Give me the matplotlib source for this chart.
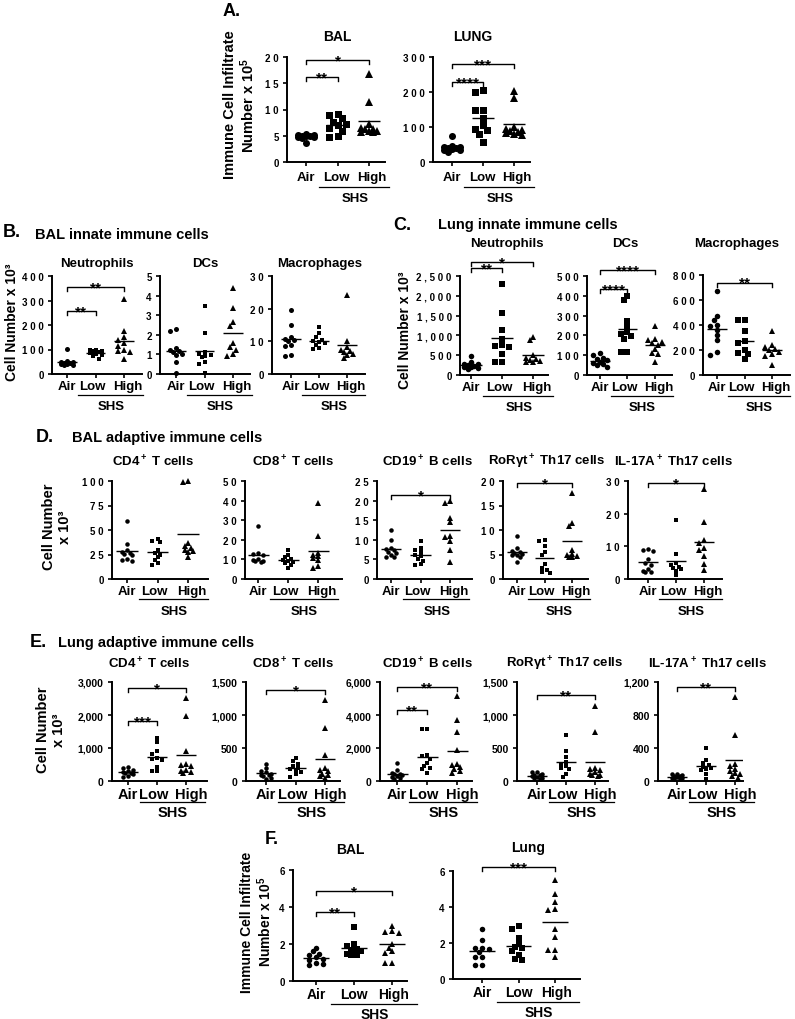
import numpy as np
import matplotlib.pyplot as plt
from matplotlib import transforms

plt.rcParams['font.family'] = ['Liberation Sans', 'DejaVu Sans']
plt.rcParams['font.weight'] = 'bold'
plt.rcParams['mathtext.fontset'] = 'custom'
plt.rcParams['mathtext.rm'] = 'Liberation Sans:bold'
plt.rcParams['mathtext.bf'] = 'Liberation Sans:bold'
plt.rcParams['mathtext.it'] = 'Liberation Sans:bold'
plt.rcParams['mathtext.default'] = 'rm'

W, H = 795, 1020
groups = ['Air', 'Low', 'High']

# ---- A. total immune cell infiltrate (x 10^5)
a_bal = [[5.3, 5.2, 5.0, 4.9, 4.8, 4.7, 4.9, 5.1, 4.6, 3.6],
         [9.2, 9.0, 8.3, 7.3, 7.0, 6.4, 6.0, 5.0, 4.8, 7.6],
         [16.8, 11.4, 7.3, 6.5, 6.2, 6.0, 5.8, 5.7, 6.3, 6.0]]
a_lung = [[73, 45, 42, 40, 38, 35, 33, 30, 44, 40],
          [207, 200, 150, 150, 127, 105, 95, 92, 80, 57],
          [204, 183, 100, 95, 92, 88, 85, 82, 80, 78]]
a_bal_ticks = [0, 5, 10, 15, 20]
a_lung_ticks = [0, 100, 200, 300]

# ---- B. BAL innate immune cells (x 10^3)
b_neut = [[103, 52, 50, 48, 46, 44, 42, 40, 38, 36],
          [100, 98, 95, 92, 88, 85, 80, 78, 72, 62],
          [308, 175, 150, 140, 125, 115, 100, 95, 90, 62]]
b_dc = [[2.2, 2.3, 1.35, 1.2, 1.15, 1.1, 1.0, 0.95, 0.6, 0.05],
        [3.45, 2.1, 1.1, 1.0, 0.95, 0.9, 0.85, 0.6, 0.5, 0.05],
        [4.4, 3.36, 2.66, 2.45, 1.6, 1.4, 1.25, 1.0, 0.9]]
b_mac = [[19.6, 15.1, 11.4, 10.6, 10.3, 10.0, 9.0, 8.5, 5.8, 5.6],
         [14.4, 12.5, 11.2, 10.5, 10.0, 9.8, 9.4, 9.0, 8.0, 7.6],
         [24.2, 10.1, 8.3, 7.4, 7.0, 6.6, 6.2, 5.8, 4.8]]
b_neut_ticks = [0, 100, 200, 300, 400]
b_dc_ticks = [0, 1, 2, 3, 4, 5]
b_mac_ticks = [0, 10, 20, 30]

# ---- C. Lung innate immune cells (x 10^3)
c_neut = [[480, 320, 290, 270, 250, 230, 210, 190, 170, 150],
          [2290, 1577, 1141, 900, 760, 720, 700, 530, 340, 330],
          [970, 880, 500, 420, 400, 380, 360, 340, 320]]
c_dc = [[110, 100, 88, 80, 74, 68, 62, 56, 48, 40],
        [398, 380, 275, 250, 215, 205, 195, 180, 117, 115],
        [247, 182, 175, 168, 160, 150, 130, 112, 105, 68]]
c_mac = [[673, 470, 440, 400, 395, 360, 320, 280, 185, 160],
         [444, 438, 350, 270, 255, 200, 180, 170, 127],
         [355, 240, 225, 210, 200, 185, 170, 150, 82]]
c_neut_ticks = [0, 500, 1000, 1500, 2000, 2500]
c_dc_ticks = [0, 100, 200, 300, 400, 500]
c_mac_ticks = [0, 200, 400, 600, 800]

# ---- D. BAL adaptive immune cells (x 10^3)
d_cd4 = [[59, 36, 30, 28, 27, 26, 24, 20, 18, 19],
         [41, 39, 38, 30, 27, 25, 22, 19, 16, 14],
         [99.5, 98.5, 37, 34, 32, 30, 29, 28, 22]]
d_cd8 = [[27, 13.5, 13, 12.5, 10, 9.5, 9.2, 9, 8.7],
         [15, 12.5, 11, 10.2, 9.8, 9.3, 8.7, 8, 7, 5.5],
         [39, 22, 13.5, 12.5, 11.5, 10.5, 9.5, 6.5, 5.5]]
d_cd19 = [[12.6, 9.9, 8, 7.6, 7.3, 7, 6.7, 6.2, 5.7, 5.5],
          [9.8, 7.8, 7.5, 6.8, 6.2, 5.8, 5.0, 4.5, 3.8, 3.5],
          [19.8, 19.5, 15.5, 14.5, 11, 10.6, 9.8, 7.3, 4.3]]
d_ror = [[8.7, 6.3, 5.6, 5.4, 5.2, 5.0, 4.8, 4.5, 3.5, 5.8],
         [7.9, 7.7, 6.8, 5.5, 4.8, 3.0, 2.3, 1.8, 1.4, 1.2],
         [17.6, 11.4, 10.8, 6.0, 5.2, 4.9, 4.7, 4.5, 4.4]]
d_il17 = [[9.2, 9.0, 8.5, 6.0, 5.0, 4.2, 3.2, 2.6, 2.2, 2.0],
          [18.2, 7.8, 4.8, 4.3, 3.8, 3.4, 3.0, 2.4, 1.2],
          [27.6, 17.5, 11.8, 11.0, 9.5, 9.0, 7.0, 4.5, 2.8]]
d_cd4_ticks = [0, 25, 50, 75, 100]
d_cd8_ticks = [0, 10, 20, 30, 40, 50]
d_cd19_ticks = [0, 5, 10, 15, 20, 25]
d_ror_ticks = [0, 5, 10, 15, 20]
d_il17_ticks = [0, 10, 20, 30]

# ---- E. Lung adaptive immune cells (x 10^3)
e_cd4 = [[420, 390, 340, 300, 280, 250, 230, 200, 150, 110],
         [1300, 1180, 910, 830, 700, 680, 650, 430, 300, 290],
         [2515, 1960, 900, 520, 480, 450, 330, 300, 280, 250]]
e_cd8 = [[255, 190, 150, 130, 110, 95, 85, 70, 50, 35],
         [345, 300, 260, 230, 200, 180, 160, 130, 100, 60],
         [1230, 800, 390, 200, 170, 150, 110, 90, 70, 50]]
e_cd19 = [[1100, 650, 500, 450, 400, 350, 300, 250, 200, 150],
          [3130, 3130, 1560, 1500, 1350, 1100, 900, 800, 750, 480],
          [5150, 3680, 2970, 1860, 1050, 1000, 850, 700, 600, 500]]
e_ror = [[140, 130, 110, 95, 85, 75, 65, 50, 40, 30],
         [700, 455, 365, 290, 260, 230, 200, 180, 110, 60],
         [1135, 750, 200, 180, 160, 130, 110, 95, 85, 75]]
e_il17 = [[90, 80, 70, 60, 55, 50, 40, 35, 30, 20],
          [403, 260, 220, 200, 170, 160, 150, 130, 90, 25],
          [1020, 556, 210, 180, 150, 120, 100, 80, 60, 40]]
e_cd4_ticks = [0, 1000, 2000, 3000]
e_cd8_ticks = [0, 500, 1000, 1500]
e_cd19_ticks = [0, 2000, 4000, 6000]
e_ror_ticks = [0, 500, 1000, 1500]
e_il17_ticks = [0, 400, 800, 1200]

# ---- F. total immune cell infiltrate (x 10^5)
f_bal = [[1.8, 1.6, 1.45, 1.4, 1.3, 1.2, 1.15, 1.0, 0.9, 0.85],
         [2.9, 2.0, 1.9, 1.75, 1.7, 1.6, 1.5, 1.45, 1.42, 1.4],
         [3.0, 2.7, 2.65, 2.6, 2.0, 1.8, 1.6, 1.5, 1.0, 0.95]]
f_lung = [[2.77, 2.16, 1.75, 1.7, 1.65, 1.5, 1.25, 1.2, 0.8, 0.78],
          [2.95, 2.8, 2.3, 2.0, 1.8, 1.7, 1.55, 1.35, 1.1, 1.05],
          [5.5, 4.74, 4.28, 3.87, 3.85, 2.77, 2.36, 1.62, 1.6, 1.25]]
f_ticks = [0, 2, 4, 6]

fig = plt.figure(figsize=(W / 100, H / 100), dpi=100)
PT = 0.72  # points per pixel at 100 dpi


def T(x, y, s, size, ha='left', va='center', rot=0, ls=1.2):
    fig.text(x / W, 1 - y / H, s, fontsize=size, fontweight='bold', ha=ha, va=va,
             rotation=rot, linespacing=ls, multialignment='center')


def swarm(vals, ppu, ms):
    # compact deterministic beeswarm (overlap allowed), offsets in pixels
    d = ms * 0.85
    step = ms * 0.6
    order = np.argsort(vals)[::-1]
    placed = []
    offs = np.zeros(len(vals))
    for i in order:
        y = vals[i] * ppu
        best, best_gap = 0.0, -1
        for k in [0, -1, 1, -2, 2]:
            x = k * step
            gap = min([np.hypot(x - px, y - py) for px, py in placed] or [99])
            if gap >= d:
                best = x
                break
            if gap > best_gap:
                best, best_gap = x, gap
        placed.append((best, y))
        offs[i] = best
    return offs


def dot_panel(box, data, ticks, brackets, ms=5, spaced=True, fs_tick=7, fs_cat=9.5,
              lab_off=(12, 21, 32), lab_shift=(0, -3, 4)):
    left, air, sp, right, top, bottom = box
    ax = fig.add_axes([left / W, 1 - bottom / H, (right - left) / W, (bottom - top) / H])
    ax.set_xlim(1 - (air - left) / sp, 1 + (right - air) / sp)
    ymax = ticks[-1]
    ax.set_ylim(0, ymax)
    ppu = (bottom - top) / ymax
    for g, (vals, mk) in enumerate(zip(data, ['o', 's', '^'])):
        vals = np.asarray(vals, float)
        size = ms * (1.2 if mk == '^' else 1.0)
        xo = swarm(vals, ppu, ms) / sp
        ax.plot(g + 1 + xo, vals, mk, color='black', ms=size * PT, mew=0,
                clip_on=False, zorder=3)
        m = vals.mean()
        ax.plot([g + 1 - 0.35, g + 1 + 0.35], [m, m], color='black', lw=1.0,
                solid_capstyle='butt')
    for i, j, y, stars in brackets:
        drop = 4 / ppu
        ax.plot([i, i, j, j], [y - drop, y, y, y - drop], color='black', lw=1.0,
                clip_on=False)
        ax.annotate(stars, (0.5 * (i + j), y), xytext=(0, -3.2), textcoords='offset points',
                    ha='center', va='baseline', fontsize=11, fontweight='bold',
                    annotation_clip=False)
    for s in ['top', 'right']:
        ax.spines[s].set_visible(False)
    for s in ['left', 'bottom']:
        ax.spines[s].set_linewidth(1.4)
    ax.set_xticks([1, 2, 3])
    ax.set_xticklabels([])
    labs = []
    for t in ticks:
        s = f'{t:,}'
        labs.append(' '.join(s) if spaced else s)
    ax.set_yticks(ticks)
    ax.set_yticklabels(labs, fontsize=fs_tick, fontweight='bold')
    ax.tick_params(axis='both', direction='out', length=3, width=1.2)
    ax.tick_params(axis='y', pad=3)
    h = bottom - top
    tr = transforms.blended_transform_factory(ax.transData, ax.transAxes)
    for g, (name, dx) in enumerate(zip(groups, lab_shift)):
        ax.annotate(name, (g + 1, 0), xycoords=tr, xytext=(dx * PT, -lab_off[0] * PT),
                    textcoords='offset points', ha='center', va='center',
                    fontsize=fs_cat, fontweight='bold', annotation_clip=False)
    ax.plot([2 - 0.6, 3 + 0.65], [-lab_off[1] / h] * 2, transform=tr, color='black',
            lw=0.9, clip_on=False)
    ax.text(2.55, -lab_off[2] / h, 'SHS', transform=tr, ha='center', va='center',
            fontsize=fs_cat, fontweight='bold')
    return ax


# ---- A
T(223, 12, 'A.', 13)
T(337, 37, 'BAL', 10, ha='center')
T(473, 37, 'LUNG', 10, ha='center')
T(240, 105, 'Immune Cell Infiltrate\nNumber x 10$^5$', 10.5, ha='center', rot=90, ls=1.05)
akw = dict(ms=7, lab_off=(15, 25, 36), lab_shift=(0, -1, 3))
dot_panel((287, 306, 31.5, 385, 58, 163), a_bal, a_bal_ticks,
          [(1, 2, 16.2, '**'), (1, 3, 19.5, '*')], **akw)
dot_panel((433, 452, 31, 530, 58, 163), a_lung, a_lung_ticks,
          [(1, 2, 229, '****'), (1, 3, 280, '***')], **akw)

# ---- B
T(3, 233, 'B.', 13)
T(35, 235, 'BAL innate immune cells', 10.5)
T(97, 264, 'Neutrophils', 9.5, ha='center')
T(205, 264, 'DCs', 9.5, ha='center')
T(320, 264, 'Macrophages', 9.5, ha='center')
T(12, 322, 'Cell Number x 10\u00b3', 10, ha='center', rot=90)
dot_panel((52, 67, 28.5, 142, 277, 375), b_neut, b_neut_ticks,
          [(1, 2, 258, '**'), (1, 3, 357, '**')])
dot_panel((160, 176, 28.5, 250, 277, 375), b_dc, b_dc_ticks, [])
dot_panel((272, 291, 28, 365, 277, 375), b_mac, b_mac_ticks, [])

# ---- C
T(393, 225, 'C.', 13)
T(438, 225, 'Lung innate immune cells', 10.5)
T(507, 244, 'Neutrophils', 9.5, ha='center')
T(625, 244, 'DCs', 9.5, ha='center')
T(737, 244, 'Macrophages', 9.5, ha='center')
T(405, 330, 'Cell Number x 10\u00b3', 10, ha='center', rot=90)
dot_panel((460, 471, 31, 548, 277, 376), c_neut, c_neut_ticks,
          [(1, 2, 2710, '**'), (1, 3, 2861, '*')], ms=5.5)
dot_panel((587, 600, 27.5, 672, 277, 376), c_dc, c_dc_ticks,
          [(1, 2, 436, '****'), (1, 3, 532, '****')], ms=5.5)
dot_panel((703, 717, 27.5, 790, 276, 376), c_mac, c_mac_ticks,
          [(1, 3, 740, '**')], ms=5.5)

# ---- D
T(36, 438, 'D.', 13)
T(72, 438, 'BAL adaptive immune cells', 10.5)
T(153, 462, 'CD4$^+$ T cells', 9.5, ha='center')
T(293, 462, 'CD8$^+$ T cells', 9.5, ha='center')
T(427, 462, 'CD19$^+$ B cells', 9.5, ha='center')
T(547, 462, 'RoR\u03b3t$^+$ Th17 cells', 9.5, ha='center')
T(673, 462, 'IL-17A$^+$ Th17 cells', 9.5, ha='center')
T(57, 527, 'Cell Number\nx 10\u00b3', 10.5, ha='center', rot=90, ls=1.1)
dkw = dict(ms=4.5, lab_off=(12, 20, 32))
dot_panel((112, 127, 30.5, 208, 482, 580), d_cd4, d_cd4_ticks, [], **dkw)
dot_panel((245, 258, 30, 342, 482, 580), d_cd8, d_cd8_ticks, [], **dkw)
dot_panel((377, 391, 29.5, 472, 482, 580), d_cd19, d_cd19_ticks,
          [(1, 3, 21.5, '*')], **dkw)
dot_panel((503, 517, 27.5, 588, 482, 580), d_ror, d_ror_ticks,
          [(1, 3, 19.5, '*')], **dkw)
dot_panel((628, 648, 28, 722, 482, 580), d_il17, d_il17_ticks,
          [(1, 3, 29.3, '*')], **dkw)

# ---- E
T(30, 643, 'E.', 13)
T(58, 643, 'Lung adaptive immune cells', 10.5)
T(149, 664, 'CD4$^+$ T cells', 9.5, ha='center')
T(293, 664, 'CD8$^+$ T cells', 9.5, ha='center')
T(427, 664, 'CD19$^+$ B cells', 9.5, ha='center')
T(565, 664, 'RoR\u03b3t$^+$ Th17 cells', 9.5, ha='center')
T(707, 664, 'IL-17A$^+$ Th17 cells', 9.5, ha='center')
T(51, 730, 'Cell Number\nx 10\u00b3', 10.5, ha='center', rot=90, ls=1.1)
ekw = dict(ms=4.5, spaced=False, fs_tick=7.5, fs_cat=10.5, lab_off=(13, 21, 31),
           lab_shift=(0, -3, 5))
dot_panel((112, 128, 29, 207, 683, 782), e_cd4, e_cd4_ticks,
          [(1, 2, 1818, '***'), (1, 3, 2828, '*')], **ekw)
dot_panel((246, 266, 29.5, 340, 683, 782), e_cd8, e_cd8_ticks,
          [(1, 3, 1374, '*')], **ekw)
dot_panel((380, 397, 30, 472, 683, 782), e_cd19, e_cd19_ticks,
          [(1, 2, 4282, '**'), (1, 3, 5696, '**')], **ekw)
dot_panel((517, 537, 29, 608, 683, 782), e_ror, e_ror_ticks,
          [(1, 3, 1298, '**')], **ekw)
dot_panel((658, 677, 29, 743, 683, 782), e_il17, e_il17_ticks,
          [(1, 3, 1140, '**')], **ekw)

# ---- F
T(265, 840, 'F.', 13)
T(350, 850, 'BAL', 10, ha='center')
T(528, 848, 'Lung', 10, ha='center')
T(257, 922, 'Immune Cell Infiltrate\nNumber x 10$^5$', 10, ha='center', rot=90, ls=1.05)
fkw = dict(ms=5.5, spaced=False, fs_tick=7, fs_cat=10, lab_off=(13, 23, 33),
           lab_shift=(0, 0, 2))
dot_panel((293, 316, 38, 407, 871, 982), f_bal, f_ticks,
          [(1, 2, 3.73, '**'), (1, 3, 4.86, '*')], **fkw)
dot_panel((453, 482, 36.5, 580, 872, 980), f_lung, f_ticks,
          [(1, 3, 6.2, '***')], **fkw)

fig.savefig('out.png', dpi=100, facecolor='white')
